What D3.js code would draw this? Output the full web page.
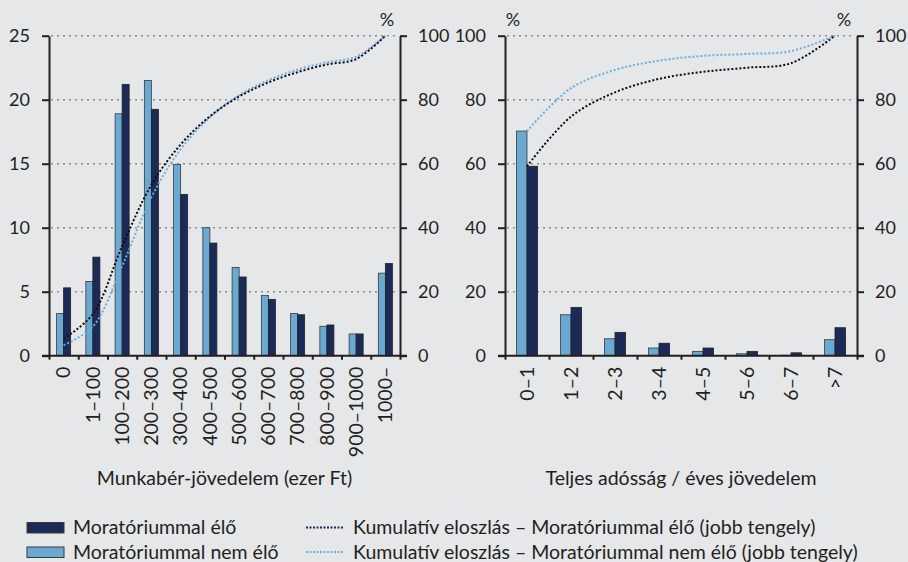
<!DOCTYPE html>
<html lang="hu">
<head>
  <meta charset="UTF-8">
  <title>Moratórium</title>
  <script src="https://d3js.org/d3.v7.min.js"></script>
  <style>
    body { margin: 0; overflow: hidden; background: #e6e7e8; }
    svg text { font-family: 'Lato', 'Open Sans', sans-serif; fill: #231f20; }
  </style>
</head>
<body>
<div id="chart"></div>
<script>
    // left panel: wage income (thousand HUF)
    const incomeCats = ["0", "1–100", "100–200", "200–300", "300–400", "400–500",
        "500–600", "600–700", "700–800", "800–900", "900–1000", "1000–"];
    const incomeWith = [5.3, 7.7, 21.2, 19.25, 12.6, 8.8, 6.15, 4.4, 3.2, 2.4, 1.7, 7.2];
    const incomeWithout = [3.3, 5.8, 18.9, 21.5, 14.95, 10.0, 6.9, 4.7, 3.3, 2.3, 1.7, 6.45];
    const incomeCumWith = [5.3, 13.0, 34.2, 53.4, 66.0, 74.8, 81.0, 85.4, 88.6, 91.0, 92.7, 100];
    const incomeCumWithout = [3.3, 9.1, 28.0, 49.5, 64.5, 74.5, 81.4, 86.1, 89.4, 91.7, 93.4, 100];
    const incomeLeftTicks = [0, 5, 10, 15, 20, 25];

    // right panel: total debt / annual income
    const debtCats = ["0–1", "1–2", "2–3", "3–4", "4–5", "5–6", "6–7", ">7"];
    const debtWith = [59.2, 15.1, 7.3, 3.9, 2.4, 1.35, 0.9, 8.75];
    const debtWithout = [70.2, 12.8, 5.3, 2.4, 1.35, 0.6, 0.15, 5.0];
    const debtCumWith = [59.2, 74.7, 82.3, 86.5, 88.7, 90.0, 91.4, 100];
    const debtCumWithout = [70.2, 83.6, 89.3, 92.2, 93.7, 94.3, 95.2, 100];
    const debtLeftTicks = [0, 20, 40, 60, 80, 100];

    const cumTicks = [0, 20, 40, 60, 80, 100];

    const W = 908, H = 562;
    const plotTop = 35.7, plotBottom = 355.7;
    const darkCol = "#1b2a57", lightCol = "#6aa9d2";
    const darkLine = "#0b0b14", lightLine = "#6aaedf";
    const axisCol = "#231f20";
    const numFont = "18px", textFont = "19.5px";

    const svg = d3.select("#chart").append("svg")
        .attr("width", W)
        .attr("height", H);

    svg.append("rect").attr("width", W).attr("height", H).attr("fill", "#e6e7e8");

    function panel(opts) {
        const g = svg.append("g");
        const n = opts.cats.length;

        const x = d3.scaleBand().domain(opts.cats).range([opts.x0, opts.x1]);
        const xEdge = d3.scaleLinear().domain([0, n]).range([opts.x0, opts.x1]);
        const yL = d3.scaleLinear().domain([0, opts.leftTicks[opts.leftTicks.length - 1]]).range([plotBottom, plotTop]);
        const yR = d3.scaleLinear().domain([0, 100]).range([plotBottom, plotTop]);

        // dotted grid lines
        g.append("g").selectAll("line")
            .data(opts.leftTicks.filter(d => d > 0))
            .join("line")
            .attr("x1", opts.x0 + 2).attr("x2", opts.x1 - 2)
            .attr("y1", d => yL(d)).attr("y2", d => yL(d))
            .attr("stroke", "#8c8c8c")
            .attr("stroke-width", 1.4)
            .attr("stroke-dasharray", "2,4");

        // bars
        const bw = x.bandwidth() * 0.24;
        const cx = d => x(d) + x.bandwidth() / 2;
        g.append("g").selectAll("rect")
            .data(opts.cats)
            .join("rect")
            .attr("x", d => cx(d) - bw)
            .attr("y", (d, i) => yL(opts.without[i]))
            .attr("width", bw)
            .attr("height", (d, i) => plotBottom - yL(opts.without[i]))
            .attr("fill", lightCol)
            .attr("stroke", "#3a3a3a")
            .attr("stroke-width", 0.8);
        g.append("g").selectAll("rect")
            .data(opts.cats)
            .join("rect")
            .attr("x", d => cx(d))
            .attr("y", (d, i) => yL(opts.with[i]))
            .attr("width", bw)
            .attr("height", (d, i) => plotBottom - yL(opts.with[i]))
            .attr("fill", darkCol)
            .attr("stroke", "#222")
            .attr("stroke-width", 0.8);

        // cumulative lines
        const line = d3.line()
            .x((d, i) => cx(opts.cats[i]))
            .y(d => yR(d))
            .curve(d3.curveCatmullRom.alpha(0.5));
        [[opts.cumWithout, lightLine], [opts.cumWith, darkLine]].forEach(([vals, col]) => {
            g.append("path")
                .attr("d", line(vals))
                .attr("fill", "none")
                .attr("stroke", col)
                .attr("stroke-width", 2)
                .attr("stroke-dasharray", "2,2");
        });

        // axes
        const left = g.append("g")
            .attr("transform", `translate(${opts.x0},0)`)
            .call(d3.axisLeft(yL).tickValues(opts.leftTicks).tickSize(7).tickSizeOuter(0).tickPadding(12));
        const right = g.append("g")
            .attr("transform", `translate(${opts.x1},0)`)
            .call(d3.axisRight(yR).tickValues(cumTicks).tickSize(7).tickSizeOuter(0).tickPadding(11));
        const base = g.append("g")
            .attr("transform", `translate(0,${plotBottom})`)
            .call(d3.axisBottom(xEdge).tickValues(d3.range(n + 1)).tickFormat("").tickSize(4).tickSizeOuter(0));
        const labels = g.append("g")
            .attr("transform", `translate(0,${plotBottom})`)
            .call(d3.axisBottom(x).tickSize(0).tickPadding(0));
        labels.select(".domain").remove();

        [left, right, base].forEach(a => {
            a.select(".domain").attr("stroke", axisCol).attr("stroke-width", 2);
            a.selectAll(".tick line").attr("stroke", axisCol).attr("stroke-width", 2);
        });
        g.selectAll(".tick text").style("font-size", numFont).attr("fill", axisCol);
        labels.selectAll("text")
            .attr("transform", "rotate(-90)")
            .attr("x", -11)
            .attr("y", 0)
            .attr("dy", "0.35em")
            .style("text-anchor", "end")
            .style("font-size", textFont);
        base.select(".domain").attr("d", `M${opts.x0 - 7},0H${opts.x1 + 7}`);

        // percent signs
        opts.pct.forEach(px => {
            g.append("text")
                .attr("x", px).attr("y", 20)
                .attr("dy", "0.35em")
                .style("text-anchor", "middle")
                .style("font-size", numFont)
                .text("%");
        });

        // axis title
        g.append("text")
            .attr("x", (opts.x0 + opts.x1) / 2)
            .attr("y", 478)
            .attr("dy", "0.35em")
            .style("text-anchor", "middle")
            .style("font-size", textFont)
            .text(opts.title);
    }

    panel({
        cats: incomeCats, with: incomeWith, without: incomeWithout,
        cumWith: incomeCumWith, cumWithout: incomeCumWithout,
        leftTicks: incomeLeftTicks, x0: 49, x1: 400, pct: [387],
        title: "Munkabér-jövedelem (ezer Ft)"
    });
    panel({
        cats: debtCats, with: debtWith, without: debtWithout,
        cumWith: debtCumWith, cumWithout: debtCumWithout,
        leftTicks: debtLeftTicks, x0: 505, x1: 857, pct: [513, 844],
        title: "Teljes adósság / éves jövedelem"
    });

    // legend
    const legend = svg.append("g").style("font-size", textFont);
    const barItems = [["Moratóriummal élő", darkCol], ["Moratóriummal nem élő", lightCol]];
    const lineItems = [["Kumulatív eloszlás – Moratóriummal élő (jobb tengely)", darkCol],
        ["Kumulatív eloszlás – Moratóriummal nem élő (jobb tengely)", lightLine]];
    const rowY = [527.5, 552];

    barItems.forEach(([label, col], i) => {
        legend.append("rect")
            .attr("x", 27).attr("y", rowY[i] - 5)
            .attr("width", 37).attr("height", 10.5)
            .attr("fill", col)
            .attr("stroke", "#3a3a3a")
            .attr("stroke-width", 1);
        legend.append("text")
            .attr("x", 73).attr("y", rowY[i])
            .attr("dy", "0.35em")
            .text(label);
    });
    lineItems.forEach(([label, col], i) => {
        legend.append("line")
            .attr("x1", 306).attr("x2", 344)
            .attr("y1", rowY[i]).attr("y2", rowY[i])
            .attr("stroke", col)
            .attr("stroke-width", 2)
            .attr("stroke-dasharray", "2,1.5");
        legend.append("text")
            .attr("x", 353).attr("y", rowY[i])
            .attr("dy", "0.35em")
            .text(label);
    });
</script>
</body>
</html>
